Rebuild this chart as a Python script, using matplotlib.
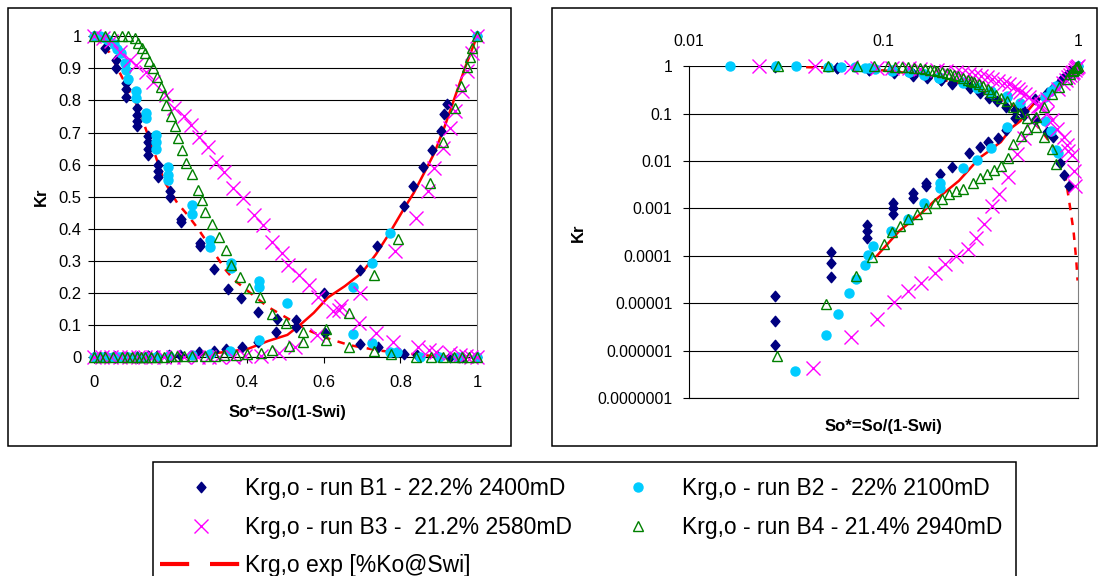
import matplotlib.pyplot as plt
from matplotlib.lines import Line2D
from matplotlib.patches import Rectangle
from matplotlib.path import Path
from matplotlib.ticker import FixedLocator, FixedFormatter, NullLocator

plt.rcParams['font.family'] = ['Liberation Sans', 'DejaVu Sans']

# ---- data (So* , Kr) ----
# run B1
b1_gas_so = [0, 0.0278, 0.058, 0.058, 0.084, 0.084, 0.084, 0.113, 0.113, 0.113, 0.113,
             0.142, 0.142, 0.142, 0.142, 0.168, 0.168, 0.168, 0.198, 0.198, 0.226, 0.226,
             0.278, 0.278, 0.3125, 0.349, 0.384, 0.427, 0.477, 0.528, 0.604, 0.695, 0.742,
             0.81, 0.843, 0.895, 0.93, 0.96, 1.0]
b1_gas_kr = [1.0, 0.963, 0.926, 0.90, 0.853, 0.835, 0.812, 0.776, 0.755, 0.735, 0.72,
             0.69, 0.67, 0.65, 0.63, 0.60, 0.58, 0.56, 0.517, 0.50, 0.43, 0.42,
             0.355, 0.345, 0.274, 0.212, 0.183, 0.139, 0.117, 0.095, 0.074, 0.04, 0.032,
             0.009, 0.005, 0.0029, 0, 0, 0]
b1_oil_so = [0, 0.015, 0.0278, 0.0278, 0.0278, 0.054, 0.054, 0.054, 0.0826, 0.0826, 0.0826,
             0.112, 0.112, 0.112, 0.1416, 0.1416, 0.165, 0.165, 0.196, 0.225, 0.275, 0.313,
             0.345, 0.386, 0.428, 0.474, 0.528, 0.60, 0.695, 0.74, 0.81, 0.832, 0.858, 0.882,
             0.905, 0.914, 0.921, 1.0]
b1_oil_kr = [0, 0, 1.3e-6, 4.3e-6, 1.4e-5, 3.6e-5, 6.9e-5, 1.2e-4, 2.4e-4, 3.4e-4, 4.5e-4,
             7.6e-4, 1.0e-3, 1.3e-3, 1.65e-3, 2.1e-3, 2.9e-3, 3.5e-3, 5.3e-3, 7.6e-3, 0.015, 0.020,
             0.025, 0.031, 0.046, 0.079, 0.115, 0.20, 0.271, 0.346, 0.47, 0.532, 0.594, 0.644,
             0.705, 0.758, 0.79, 1.0]

# run B2
b2_gas_so = [0, 0.0163, 0.0279, 0.0357, 0.0519, 0.0603, 0.071, 0.08, 0.084, 0.09, 0.11, 0.11,
             0.136, 0.136, 0.162, 0.162, 0.162, 0.193, 0.193, 0.193, 0.256, 0.256, 0.304, 0.304,
             0.359, 0.359, 0.432, 0.432, 0.505, 0.675, 0.727, 0.773, 0.79, 0.85, 0.9, 0.95, 1.0]
b2_gas_kr = [1.0, 1.0, 0.995, 0.99, 0.975, 0.96, 0.947, 0.916, 0.895, 0.867, 0.828, 0.807,
             0.76, 0.746, 0.692, 0.671, 0.65, 0.594, 0.568, 0.552, 0.473, 0.447, 0.364, 0.343,
             0.292, 0.277, 0.238, 0.219, 0.167, 0.071, 0.043, 0.017, 0.0147, 0, 0, 0, 0]
b2_oil_so = [0, 0.02, 0.0352, 0.0507, 0.0586, 0.0664, 0.0721, 0.080, 0.0834, 0.0887, 0.109,
             0.134, 0.162, 0.195, 0.195, 0.255, 0.303, 0.355, 0.432, 0.675, 0.727, 0.773, 1.0]
b2_oil_kr = [0, 0, 3.8e-7, 2.1e-6, 6e-6, 1.6e-5, 3.2e-5, 6.5e-5, 1.05e-4, 1.6e-4, 3.4e-4,
             5.9e-4, 1.3e-3, 2.75e-3, 3.5e-3, 7.2e-3, 0.0104, 0.019, 0.053, 0.219, 0.294, 0.387, 1.0]

# run B3
b3_gas_so = [0, 0.0228, 0.0443, 0.0684, 0.093, 0.11, 0.136, 0.154, 0.188, 0.21, 0.236, 0.253,
             0.275, 0.297, 0.318, 0.34, 0.362, 0.388, 0.418, 0.44, 0.466, 0.492, 0.506, 0.536,
             0.5625, 0.584, 0.64, 0.693, 0.736, 0.78, 0.845, 0.875, 0.892, 0.93, 0.955, 0.97,
             0.985, 1.0]
b3_gas_kr = [1.0, 0.995, 0.985, 0.952, 0.926, 0.91, 0.89, 0.859, 0.817, 0.776, 0.75, 0.724,
             0.687, 0.656, 0.609, 0.578, 0.526, 0.495, 0.442, 0.411, 0.359, 0.323, 0.287, 0.255,
             0.224, 0.188, 0.145, 0.105, 0.074, 0.048, 0.032, 0.022, 0.016, 0.0135, 0.006, 0.0029,
             0, 0]
b3_oil_so = [0, 0.02, 0.0433, 0.0684, 0.0925, 0.1137, 0.134, 0.155, 0.183, 0.207, 0.235, 0.271,
             0.30, 0.327, 0.363, 0.394, 0.437, 0.484, 0.526, 0.583, 0.623, 0.646, 0.695, 0.786,
             0.84, 0.872, 0.889, 0.912, 0.93, 0.943, 0.961, 0.975, 0.988, 1.0]
b3_oil_kr = [0, 0, 4.2e-7, 1.9e-6, 4.7e-6, 1.05e-5, 1.85e-5, 2.6e-5, 4.3e-5, 6.8e-5, 1e-4, 1.4e-4,
             2.4e-4, 4.7e-4, 1.1e-3, 2e-3, 4.5e-3, 0.0138, 0.031, 0.069, 0.143, 0.159, 0.2, 0.33,
             0.434, 0.517, 0.59, 0.652, 0.714, 0.766, 0.829, 0.891, 0.948, 1.0]

# run B4
b4_gas_so = [0, 0.0287, 0.0519, 0.0732, 0.089, 0.106, 0.115, 0.125, 0.134, 0.143, 0.154, 0.164,
             0.174, 0.182, 0.189, 0.201, 0.212, 0.22, 0.231, 0.241, 0.255, 0.271, 0.282, 0.291,
             0.308, 0.326, 0.345, 0.359, 0.381, 0.404, 0.434, 0.464, 0.501, 0.545, 0.606, 0.667,
             0.732, 0.775, 0.84, 0.88, 0.91, 0.94, 0.96, 0.98, 1.0]
b4_gas_kr = [1.0, 1.0, 1.0, 1.0, 1.0, 0.994, 0.978, 0.962, 0.947, 0.923, 0.90, 0.874,
             0.843, 0.817, 0.786, 0.75, 0.719, 0.684, 0.646, 0.604, 0.57, 0.521, 0.489, 0.453,
             0.416, 0.373, 0.333, 0.287, 0.248, 0.214, 0.186, 0.134, 0.105, 0.079, 0.053, 0.032,
             0.0177, 0.0085, 0, 0, 0, 0, 0, 0, 0]
b4_oil_so = [0, 0.015, 0.0284, 0.0507, 0.072, 0.087, 0.1, 0.111, 0.122, 0.134, 0.148, 0.165,
             0.183, 0.2, 0.216, 0.235, 0.255, 0.29, 0.315, 0.34, 0.37, 0.40, 0.436, 0.464, 0.508,
             0.545, 0.606, 0.667, 0.732, 0.794, 0.878, 0.912, 0.942, 0.957, 0.975, 0.981, 0.988, 1.0]
b4_oil_kr = [0, 0, 7.6e-7, 9.4e-6, 3.8e-5, 9.3e-5, 1.8e-4, 3.1e-4, 4.3e-4, 5.9e-4, 7.6e-4, 1.0e-3,
             1.3e-3, 1.6e-3, 2e-3, 2.3e-3, 2.6e-3, 3.5e-3, 4.3e-3, 5.2e-3, 6.4e-3, 7.9e-3, 0.0118,
             0.0225, 0.034, 0.048, 0.086, 0.138, 0.255, 0.367, 0.542, 0.67, 0.776, 0.846, 0.905,
             0.936, 0.963, 1.0]

# experimental curves
exp_gas_so = [0, 0.04, 0.07, 0.096, 0.113, 0.158, 0.184, 0.217, 0.245, 0.271, 0.344, 0.366,
              0.453, 0.558, 0.61, 0.667, 0.745, 0.847, 0.90, 0.948, 0.98, 0.995]
exp_gas_kr = [1.0, 0.95, 0.88, 0.82, 0.784, 0.636, 0.547, 0.481, 0.442, 0.401, 0.271, 0.24,
              0.157, 0.084, 0.058, 0.037, 0.02, 0.0073, 0.00145, 0.00034, 7.9e-5, 3e-5]
exp_oil_so = [0.0925, 0.121, 0.155, 0.183, 0.244, 0.313, 0.34, 0.386, 0.401, 0.455, 0.505, 0.538,
              0.574, 0.61, 0.655, 0.7, 0.736, 0.772, 0.808, 0.835, 0.862, 0.889, 0.916, 0.943,
              0.97, 1.0]
exp_oil_kr = [1e-4, 3.4e-4, 7.6e-4, 1.45e-3, 3.8e-3, 0.0118, 0.015, 0.0224, 0.025, 0.05, 0.069,
              0.1, 0.138, 0.185, 0.221, 0.263, 0.32, 0.387, 0.46, 0.512, 0.574, 0.637, 0.72,
              0.813, 0.906, 1.0]

labels = ["Krg,o - run B1 - 22.2% 2400mD", "Krg,o - run B2 -  22% 2100mD",
          "Krg,o - run B3 -  21.2% 2580mD", "Krg,o - run B4 - 21.4% 2940mD",
          "Krg,o exp [%Ko@Swi]"]
lin_ticks = [0, 0.1, 0.2, 0.3, 0.4, 0.5, 0.6, 0.7, 0.8, 0.9, 1]
lin_xticks = [0, 0.2, 0.4, 0.6, 0.8, 1]
log_yticks = [1e-7, 1e-6, 1e-5, 1e-4, 1e-3, 1e-2, 1e-1, 1]
log_ylabels = ["0.0000001", "0.000001", "0.00001", "0.0001", "0.001", "0.01", "0.1", "1"]
log_xticks = [0.01, 0.1, 1]
log_xlabels = ["0.01", "0.1", "1"]

W, H = 1099, 576
fig = plt.figure(figsize=(W / 100, H / 100), dpi=100)


def fbox(x0, y0, x1, y1):
    """pixel box (origin top-left) -> figure rect"""
    return [x0 / W, 1 - y1 / H, (x1 - x0) / W, (y1 - y0) / H]


# frames around the two charts and the legend
for x0, y0, x1, y1 in [(8, 8, 511, 446), (552, 8, 1097, 446), (153, 462, 1016, 590)]:
    fig.patches.append(Rectangle((x0 / W, 1 - y1 / H), (x1 - x0) / W, (y1 - y0) / H,
                                 transform=fig.transFigure, fill=False, ec='black', lw=1.1))

ax1 = fig.add_axes(fbox(94, 36.3, 477, 357))
ax2 = fig.add_axes(fbox(689, 66.1, 1078, 398))

diamond = Path([(0, 1), (0.85, 0), (0, -1), (-0.85, 0), (0, 1)], closed=True)
series = [
    (b1_gas_so, b1_gas_kr, b1_oil_so, b1_oil_kr,
     dict(marker=diamond, ms=7.5, color='#000080', mec='#000080')),
    (b2_gas_so, b2_gas_kr, b2_oil_so, b2_oil_kr,
     dict(marker='o', ms=6.5, color='#00CCFF', mec='#00CCFF')),
    (b3_gas_so, b3_gas_kr, b3_oil_so, b3_oil_kr,
     dict(marker='x', ms=9.5, color='#FF00FF', mew=1.0)),
    (b4_gas_so, b4_gas_kr, b4_oil_so, b4_oil_kr,
     dict(marker='^', ms=7.5, color='#008000', mfc='none', mew=1.0)),
]


def keep(xs, ys, logscale):
    if not logscale:
        return xs, ys
    pts = [(x, y) for x, y in zip(xs, ys) if x > 0 and y > 0]
    return [p[0] for p in pts], [p[1] for p in pts]


for ax, logscale in ((ax1, False), (ax2, True)):
    x, y = keep(exp_gas_so, exp_gas_kr, logscale)
    ax.plot(x, y, color='red', lw=1.8, dashes=(3, 3), zorder=2)
    x, y = keep(exp_oil_so, exp_oil_kr, logscale)
    ax.plot(x, y, color='red', lw=1.8, zorder=2)
    for i, (gs, gk, os_, ok, st) in enumerate(series):
        for xs, ys in ((gs, gk), (os_, ok)):
            x, y = keep(xs, ys, logscale)
            ax.plot(x, y, ls='none', clip_on=False, zorder=3 + i, **st)

# left chart: linear
ax1.set_xlim(0, 1)
ax1.set_ylim(0, 1)
ax1.xaxis.set_major_locator(FixedLocator(lin_xticks))
ax1.set_xticklabels([f"{v:g}" for v in lin_xticks])
ax1.yaxis.set_major_locator(FixedLocator(lin_ticks))
ax1.set_yticklabels([f"{v:g}" for v in lin_ticks])
ax1.tick_params(direction='out', length=4, width=0.8, labelsize=12, pad=5)
ax1.tick_params(axis='x', pad=9)
ax1.yaxis.grid(True, color='black', lw=0.8)
ax1.set_axisbelow(True)
ax1.spines['top'].set_visible(False)
ax1.spines['right'].set_color('#808080')

# right chart: log-log, x axis on top
ax2.set_xscale('log')
ax2.set_yscale('log')
ax2.set_xlim(0.01, 1)
ax2.set_ylim(1e-7, 1)
ax2.xaxis.tick_top()
ax2.xaxis.set_major_locator(FixedLocator(log_xticks))
ax2.xaxis.set_major_formatter(FixedFormatter(log_xlabels))
ax2.yaxis.set_major_locator(FixedLocator(log_yticks))
ax2.yaxis.set_major_formatter(FixedFormatter(log_ylabels))
ax2.xaxis.set_minor_locator(NullLocator())
ax2.yaxis.set_minor_locator(NullLocator())
ax2.tick_params(direction='out', length=4, width=0.8, labelsize=11.3, pad=8)
ax2.tick_params(axis='x', length=0, pad=12)
ax2.yaxis.grid(True, color='black', lw=0.8)
ax2.set_axisbelow(True)
ax2.spines['top'].set_visible(False)
ax2.spines['right'].set_color('#808080')

# axis titles
fig.text(287 / W, 1 - 413 / H, "So*=So/(1-Swi)", ha='center', va='center',
         fontsize=12, fontweight='bold')
fig.text(883 / W, 1 - 427 / H, "So*=So/(1-Swi)", ha='center', va='center',
         fontsize=12, fontweight='bold')
fig.text(41 / W, 1 - 197 / H, "Kr", ha='center', va='center', rotation=90,
         fontsize=12, fontweight='bold')
fig.text(578 / W, 1 - 233 / H, "Kr", ha='center', va='center', rotation=90,
         fontsize=12, fontweight='bold')

# legend (filled column-wise, so order B1, B3, exp | B2, B4)
ln = [ax1.lines[2 + 2 * i] for i in range(4)]
exp_handle = Line2D([], [], color='red', lw=3, dashes=(7, 5))
fig.legend([ln[0], ln[2], exp_handle, ln[1], ln[3]],
           [labels[0], labels[2], labels[4], labels[1], labels[3]],
           ncol=2, loc='upper left', bbox_to_anchor=(160 / W, 1 - 477 / H),
           frameon=False, fontsize=16.5, handlelength=3.58, handletextpad=0.13,
           columnspacing=1.09, labelspacing=0.68, borderpad=0, borderaxespad=0,
           numpoints=1)

fig.savefig("out.png", dpi=100)
